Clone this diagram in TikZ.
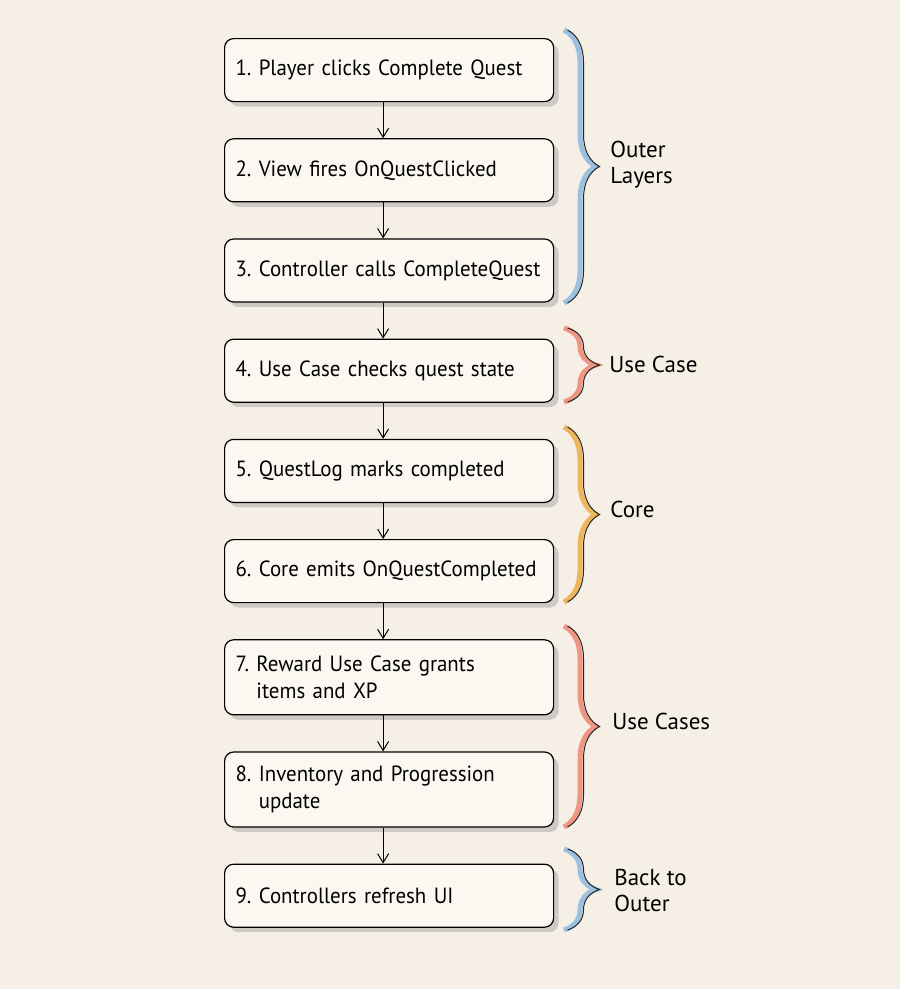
\documentclass[tikz,border=0pt]{standalone}
\usepackage{fontspec}
\setmainfont{PT Sans}
\newfontfamily\stepfont[FakeStretch=0.95]{PT Sans}
\usetikzlibrary{arrows.meta,positioning,shadows,decorations.pathreplacing}
\definecolor{paper}{HTML}{F6EFE5}
\definecolor{boxfill}{HTML}{FBF8F1}
\definecolor{outerblue}{HTML}{9CC0E0}
\definecolor{usecasered}{HTML}{EE9584}
\definecolor{coreorange}{HTML}{EDB55C}
\frenchspacing
\hyphenpenalty=10000
\exhyphenpenalty=10000
\tikzset{
  every picture/.style = {
    thick,
    >={Straight Barb[length=9pt,width=11pt]},
    node distance = 36pt and 3em,
  }
  ,
  stepbox/.style = {
    rectangle,
    rounded corners = 9pt,
    draw,
    line width = 1.2pt,
    fill = boxfill,
    font = \stepfont\fontsize{22}{27.5}\selectfont,
    minimum height = 63pt,
    text width = 307pt,
    inner xsep = 11pt,
    align = left,
    drop shadow = {shadow xshift=5pt, shadow yshift=-5pt, fill=black!30, opacity=.6}
  }
  , % coloured stroke of a layer brace
  layer-brace/.style = {
    decorate,
    decoration = {brace, amplitude=32pt},
    draw = #1,
    line width = 5pt
  }
  , % dark outline of a layer brace
  layer-edge/.style = {
    decorate,
    decoration = {brace, amplitude=32pt},
    draw = black!85,
    line width = 1pt
  }
  , % labels of layers
  label-layer/.style = {
    font = \fontsize{23}{26}\selectfont,
    align = left,
    anchor = west,
    inner sep = 0pt
  }
}
\begin{document}
\begin{tikzpicture}[x=1pt, y=-1pt]
    \fill [paper] (0,0) rectangle (900,989);
    \useasboundingbox (0,0) rectangle (900,989);
    % steps
    \node [stepbox, anchor = north west] (s1) at (224,38) {1. Player clicks Complete Quest};
    \node [stepbox, below = of s1] (s2) {2. View fires OnQuestClicked};
    \node [stepbox, below = of s2] (s3) {3. Controller calls CompleteQuest};
    \node [stepbox, below = of s3] (s4) {4. Use Case checks quest state};
    \node [stepbox, below = of s4] (s5) {5. QuestLog marks completed};
    \node [stepbox, below = of s5] (s6) {6. Core emits OnQuestCompleted};
    \node [stepbox, below = of s6, minimum height = 75pt] (s7) {7. Reward Use Case grants\\\hphantom{7. }items and XP};
    \node [stepbox, below = of s7, minimum height = 75pt] (s8) {8. Inventory and Progression\\\hphantom{8. }update};
    \node [stepbox, below = of s8] (s9) {9. Controllers refresh UI};
    \foreach \a/\b in {s1/s2, s2/s3, s3/s4, s4/s5, s5/s6, s6/s7, s7/s8, s8/s9}
      \draw [->, line width = 1pt] ([xshift=-6pt]\a.south) -- ([xshift=-6pt]\b.north);
    % layers
    \foreach \top/\bot/\col in {30/303/outerblue, 328/402/usecasered, 427/602/coreorange, 626/827/usecasered, 849/930/outerblue} {
      \draw [layer-brace = \col] (564,\top) -- (564,\bot);
      \draw [layer-edge] (567.5,\top) -- (567.5,\bot);
    }
    \node [label-layer] (l1) at (610,165) {Outer\\Layers};
    \node [label-layer] (l2) at (609,364) {Use Case};
    \node [label-layer] (l3) at (610,509) {Core};
    \node [label-layer] (l4) at (612,721) {Use Cases};
    \node [label-layer] (l5) at (614,890) {Back to\\Outer};
\end{tikzpicture}
\end{document}
